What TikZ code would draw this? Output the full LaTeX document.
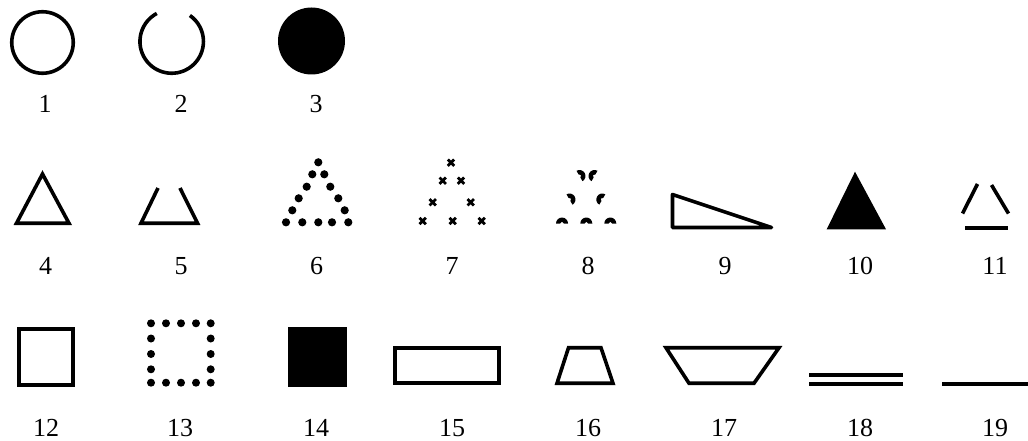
\documentclass[tikz,border=0pt]{standalone}
\usepackage{fontspec}
\setmainfont{Liberation Serif}
\begin{document}
\begin{tikzpicture}[x=1pt,y=-1pt,
  stroke/.style={line width=3.6pt},
  lab/.style={anchor=base,font=\fontsize{26}{30}\selectfont,inner sep=0pt},
  xmark/.style={line width=2.8pt},
  arcpiece/.style={fill=black}]
\useasboundingbox (0,0) rectangle (1028,441);
% row 1
\draw[stroke] (42.5,42.5) circle (30.75);
\draw[stroke] (171.7,41.5) ++(-118:31.75) arc[start angle=-118, end angle=-415, radius=31.75];
\fill (311.5,41) circle (33.5);
\node[lab] (l1) at (45,113) {1};
\node[lab] (l2) at (181,113) {2};
\node[lab] (l3) at (316,113) {3};
% row 2
\draw[stroke] (16.5,223.25) -- (69,223.25) -- (42.5,174) -- cycle;
\draw[stroke] (158,188) -- (141,223.25) -- (197.5,223.25) -- (180,188);
\foreach \x/\y in {318.3/162.3, 312.3/174.3, 324.3/174.3, 306.7/186.7, 330.3/186.7,
  298.7/198.3, 338.3/198.3, 292.3/210.3, 344.7/210.3,
  286/222.3, 302.3/222.3, 318.3/222.3, 332/222.3, 348.3/222.3}
  \fill (\x,\y) circle (4.1);
\foreach \x/\y in {451/162.7, 442.7/180.7, 461/180.7, 432.7/202.3, 470.7/202.3,
  422.7/221, 452.7/221, 481.7/221}
  \draw[xmark] (\x-3.2,\y-3.2) -- (\x+3.2,\y+3.2) (\x-3.2,\y+3.2) -- (\x+3.2,\y-3.2);
% item 8: arch fragments
\foreach \x/\y in {562/223.5, 586.3/223.5, 610.3/223.5}
  \fill[arcpiece,shift={(\x,\y)}] (6,0) arc[start angle=0, end angle=-180, radius=6]
    -- (-1.8,0) arc[start angle=-180, end angle=0, radius=1.8] -- cycle;
\foreach \x/\y in {569.5/199.5, 579.5/176}
  \fill[arcpiece,shift={(\x,\y)},rotate=-60] (6,0) arc[start angle=0, end angle=-180, radius=6]
    -- (-1.8,0) arc[start angle=-180, end angle=0, radius=1.8] -- cycle;
\foreach \x/\y in {602.3/199.5, 594.5/176}
  \fill[arcpiece,shift={(\x,\y)},rotate=60] (6,0) arc[start angle=0, end angle=-180, radius=6]
    -- (-1.8,0) arc[start angle=-180, end angle=0, radius=1.8] -- cycle;
\draw[stroke,line join=round] (672.5,194.5) -- (672.5,227.5) -- (771.5,227.5) -- cycle;
\fill (826.7,229.3) -- (886,229.3) -- (855,171.7) -- cycle;
\draw[stroke] (977.5,184) -- (962.5,213.5);
\draw[stroke] (991.5,185) -- (1008.5,213.5);
\draw[stroke] (965,228) -- (1008.3,228);
\node[lab] (l4) at (45.5,274) {4};
\node[lab] (l5) at (181,274) {5};
\node[lab] (l6) at (316.5,274) {6};
\node[lab] (l7) at (452,274) {7};
\node[lab] (l8) at (588,274) {8};
\node[lab] (l9) at (725,274) {9};
\node[lab] (l10) at (860,274) {10};
\node[lab] (l11) at (995,274) {11};
% row 3
\draw[stroke] (19,329) rectangle (73.2,385);
\foreach \x in {151,166,181,196,210.7} {
  \fill (\x,323.3) circle (4);
  \fill (\x,382.7) circle (4);
}
\foreach \y in {338.5,354,369.3} {
  \fill (151,\y) circle (4);
  \fill (210.7,\y) circle (4);
}
\fill (288.3,327.3) rectangle (346.7,386.7);
\draw[stroke] (395,347.75) rectangle (499,383.25);
\draw[stroke] (568.5,347.75) -- (601,347.75) -- (613,383.25) -- (557,383.25) -- cycle;
\draw[stroke] (666,347.75) -- (779,347.75) -- (754,383.25) -- (689,383.25) -- cycle;
\draw[stroke] (809,375) -- (903.3,375);
\draw[stroke] (809,383.7) -- (903.3,383.7);
\draw[stroke] (942.3,384) -- (1030,384);
\node[lab] (l12) at (46,436) {12};
\node[lab] (l13) at (180,436) {13};
\node[lab] (l14) at (316,436) {14};
\node[lab] (l15) at (452,436) {15};
\node[lab] (l16) at (588,436) {16};
\node[lab] (l17) at (724,436) {17};
\node[lab] (l18) at (860,436) {18};
\node[lab] (l19) at (995,436) {19};
\end{tikzpicture}
\end{document}
